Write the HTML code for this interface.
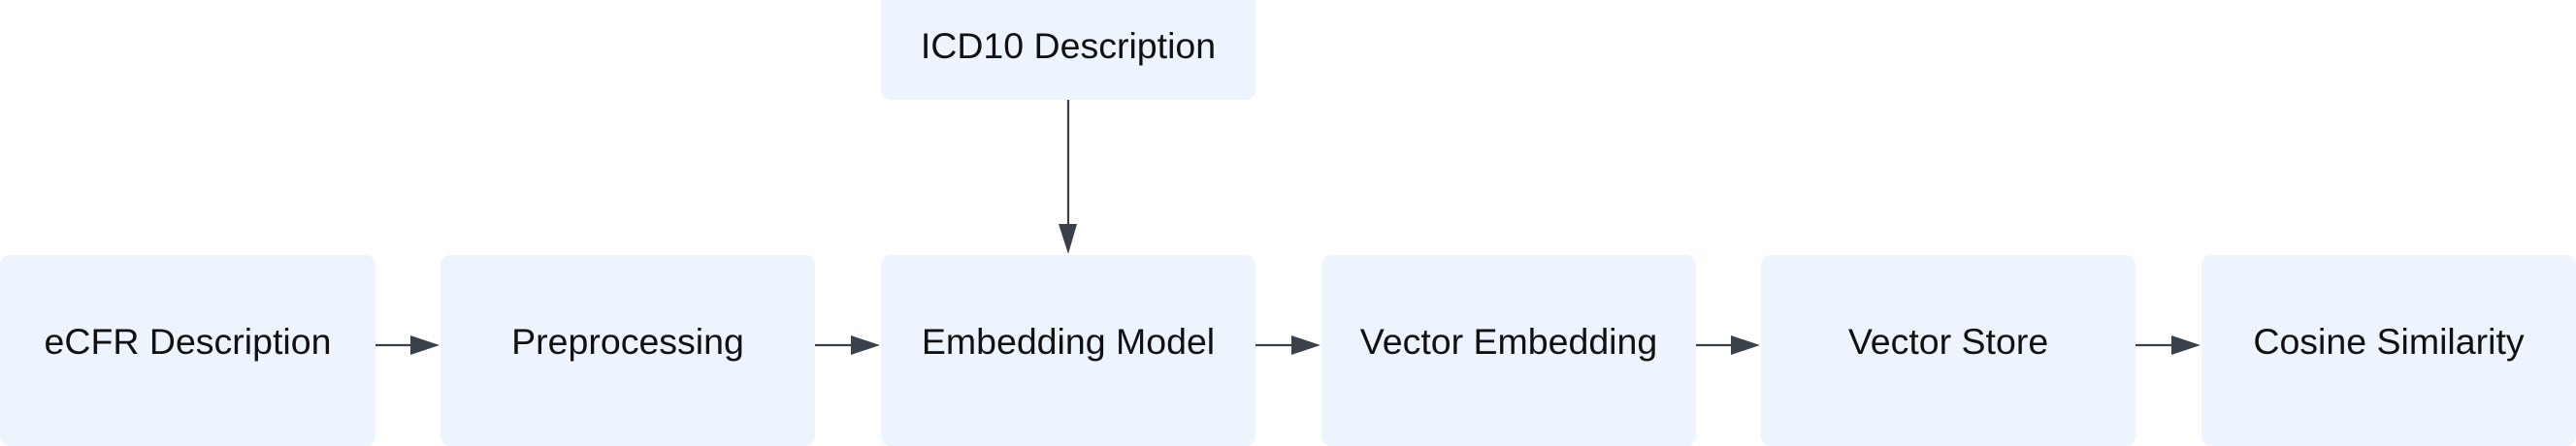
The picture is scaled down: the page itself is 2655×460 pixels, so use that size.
<!DOCTYPE html>
<html><head><style>
html,body{margin:0;padding:0;background:#fff;}
body{width:2655px;height:450px;position:relative;overflow:hidden;font-family:"Liberation Sans",sans-serif;}
.b{position:absolute;background:#edf4fe;border-radius:10px;display:flex;align-items:center;justify-content:center;font-size:37.5px;color:#111;}
</style></head><body>
<div class="b" style="left:908px;top:-10px;width:386px;height:113px;"><span style="position:relative;top:1px">ICD10 Description</span></div>
<div class="b" style="left:0;top:263px;width:387px;height:197px;"><span style="position:relative;top:-9px">eCFR Description</span></div>
<div class="b" style="left:454px;top:263px;width:386px;height:197px;"><span style="position:relative;top:-9px">Preprocessing</span></div>
<div class="b" style="left:908px;top:263px;width:386px;height:197px;"><span style="position:relative;top:-9px">Embedding Model</span></div>
<div class="b" style="left:1362px;top:263px;width:386px;height:197px;"><span style="position:relative;top:-9px">Vector Embedding</span></div>
<div class="b" style="left:1815px;top:263px;width:386px;height:197px;"><span style="position:relative;top:-9px">Vector Store</span></div>
<div class="b" style="left:2269px;top:263px;width:386px;height:197px;"><span style="position:relative;top:-9px">Cosine Similarity</span></div>
<svg width="2655" height="450" style="position:absolute;left:0;top:0">
<g stroke="#3a414a" stroke-width="2.2" fill="none">
<line x1="1101" y1="103" x2="1101" y2="232"/>
<line x1="387" y1="356" x2="424" y2="356"/>
<line x1="840" y1="356" x2="878" y2="356"/>
<line x1="1294" y1="356" x2="1332" y2="356"/>
<line x1="1748" y1="356" x2="1785" y2="356"/>
<line x1="2201" y1="356" x2="2239" y2="356"/>
</g>
<g fill="#3a414a">
<polygon points="1091,231 1110,231 1101,262"/>
<polygon points="423,346 453,356 423,366"/>
<polygon points="877,346 907,356 877,366"/>
<polygon points="1331,346 1361,356 1331,366"/>
<polygon points="1784,346 1814,356 1784,366"/>
<polygon points="2238,346 2268,356 2238,366"/>
</g>
</svg>
</body></html>
